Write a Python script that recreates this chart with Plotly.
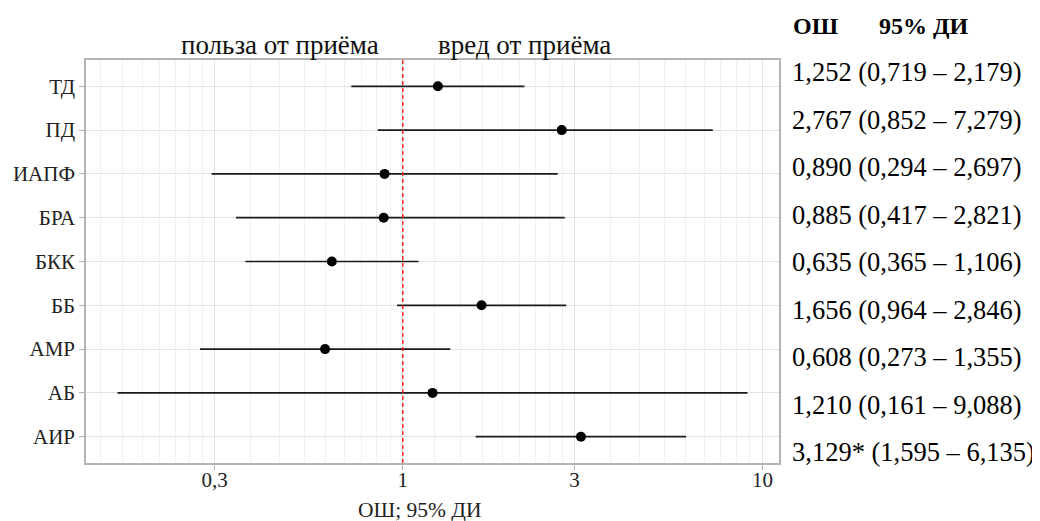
import math
import plotly.graph_objects as go

# ---- data ----
categories = ["ТД", "ПД", "ИАПФ", "БРА", "БКК", "ББ", "АМР", "АБ", "АИР"]
odds_ratio = [1.252, 2.767, 0.890, 0.885, 0.635, 1.656, 0.608, 1.210, 3.129]
ci_low = [0.719, 0.852, 0.294, 0.344, 0.365, 0.964, 0.273, 0.161, 1.595]
ci_high = [2.179, 7.279, 2.697, 2.821, 1.106, 2.846, 1.355, 9.088, 6.135]
row_labels = [
    "1,252 (0,719 – 2,179)",
    "2,767 (0,852 – 7,279)",
    "0,890 (0,294 – 2,697)",
    "0,885 (0,417 – 2,821)",
    "0,635 (0,365 – 1,106)",
    "1,656 (0,964 – 2,846)",
    "0,608 (0,273 – 1,355)",
    "1,210 (0,161 – 9,088)",
    "3,129* (1,595 – 6,135)",
]
x_tickvals = [0.3, 1, 3, 10]
x_ticktext = ["0,3", "1", "3", "10"]
header_or = "ОШ"
header_ci = "95% ДИ"
label_left = "польза от приёма"
label_right = "вред от приёма"
x_title = "ОШ; 95% ДИ"

# ---- layout geometry (page pixels; the page body adds an 8px offset) ----
OFF = 8
W, H = 1040 - OFF, 521 - OFF
PANEL_L, PANEL_R, PANEL_T, PANEL_B = 86, 779, 60, 463
L = PANEL_L - OFF
T = PANEL_T - OFF
R = W - (PANEL_R - OFF)
B = H - (PANEL_B - OFF)
plot_w = PANEL_R - PANEL_L
plot_h = PANEL_B - PANEL_T
SERIF = "Liberation Serif, Times New Roman, serif"

# log range with 5% expansion (ggplot style)
lo = math.log10(min(ci_low))
hi = math.log10(max(ci_high))
span = hi - lo
xrange = [lo - 0.05 * span, hi + 0.05 * span]

# minor grid: 9 linear intervals between successive major breaks
majors_all = [0.1, 0.3, 1, 3, 10, 30]
minor_vals = []
for a, b in zip(majors_all[:-1], majors_all[1:]):
    for k in range(1, 9):
        minor_vals.append(a + (b - a) * k / 9)

err_plus = [h - o for h, o in zip(ci_high, odds_ratio)]
err_minus = [o - l for o, l in zip(odds_ratio, ci_low)]

fig = go.Figure()
fig.add_trace(go.Scatter(
    x=odds_ratio, y=categories, mode="markers",
    marker=dict(color="black", size=10),
    error_x=dict(type="data", symmetric=False, array=err_plus,
                 arrayminus=err_minus, width=0, thickness=1.7, color="#1a1a1a"),
    showlegend=False, hoverinfo="skip",
))

fig.add_shape(type="line", xref="x", yref="paper", x0=1, x1=1, y0=0, y1=1,
              line=dict(color="#ff1a1a", width=1.4, dash="4px,3px"), layer="above")


def px_x(pix):
    return (pix - PANEL_L) / plot_w


def px_y(pix):
    return (PANEL_B - pix) / plot_h


annotations = [
    dict(text=label_left, x=px_x(280), y=px_y(45), xref="paper", yref="paper",
         xanchor="center", yanchor="middle", showarrow=False,
         font=dict(family=SERIF, size=27, color="#111")),
    dict(text=label_right, x=px_x(524), y=px_y(45), xref="paper", yref="paper",
         xanchor="center", yanchor="middle", showarrow=False,
         font=dict(family=SERIF, size=27, color="#111")),
    dict(text=x_title, x=px_x(420), y=px_y(510), xref="paper", yref="paper",
         xanchor="center", yanchor="middle", showarrow=False,
         font=dict(family=SERIF, size=21.5, color="#222")),
    dict(text="<b>" + header_or + "</b>", x=px_x(791), y=px_y(26), xref="paper",
         yref="paper", xanchor="left", yanchor="middle", showarrow=False,
         font=dict(family=SERIF, size=24, color="black")),
    dict(text="<b>" + header_ci + "</b>", x=px_x(877), y=px_y(26), xref="paper",
         yref="paper", xanchor="left", yanchor="middle", showarrow=False,
         font=dict(family=SERIF, size=24, color="black")),
]
for i, txt in enumerate(row_labels):
    annotations.append(dict(
        text=txt, x=px_x(790), y=px_y(72 + 47.5 * i), xref="paper", yref="paper",
        xanchor="left", yanchor="middle", showarrow=False,
        font=dict(family=SERIF, size=26.5, color="black")))

fig.update_layout(
    width=W, height=H,
    margin=dict(l=L, r=R, t=T, b=B, autoexpand=False),
    paper_bgcolor="white", plot_bgcolor="white",
    font=dict(family=SERIF, color="#222"),
    annotations=annotations,
    xaxis=dict(
        type="log", range=xrange, automargin=False,
        tickmode="array", tickvals=x_tickvals, ticktext=x_ticktext,
        tickfont=dict(family=SERIF, size=21, color="#222"),
        ticklabelstandoff=-8,
        showgrid=True, gridcolor="#e3e3e3", gridwidth=1,
        minor=dict(tickmode="array", tickvals=minor_vals, showgrid=True,
                   gridcolor="#f1f1f1", gridwidth=1, ticks=""),
        ticks="outside", ticklen=5, tickcolor="#b3b3b3", tickwidth=1,
        showline=True, linecolor="#b3b3b3", linewidth=1.5, mirror=True,
        zeroline=False,
    ),
    yaxis=dict(
        type="category", categoryorder="array", categoryarray=categories,
        range=[len(categories) - 0.4, -0.6], automargin=False,
        tickfont=dict(family=SERIF, size=21, color="#222"),
        showgrid=True, gridcolor="#e3e3e3", gridwidth=1,
        ticks="outside", ticklen=5, tickcolor="#b3b3b3", tickwidth=1,
        showline=True, linecolor="#b3b3b3", linewidth=1.5, mirror=True,
        zeroline=False,
    ),
)

fig.write_html("out.html")
